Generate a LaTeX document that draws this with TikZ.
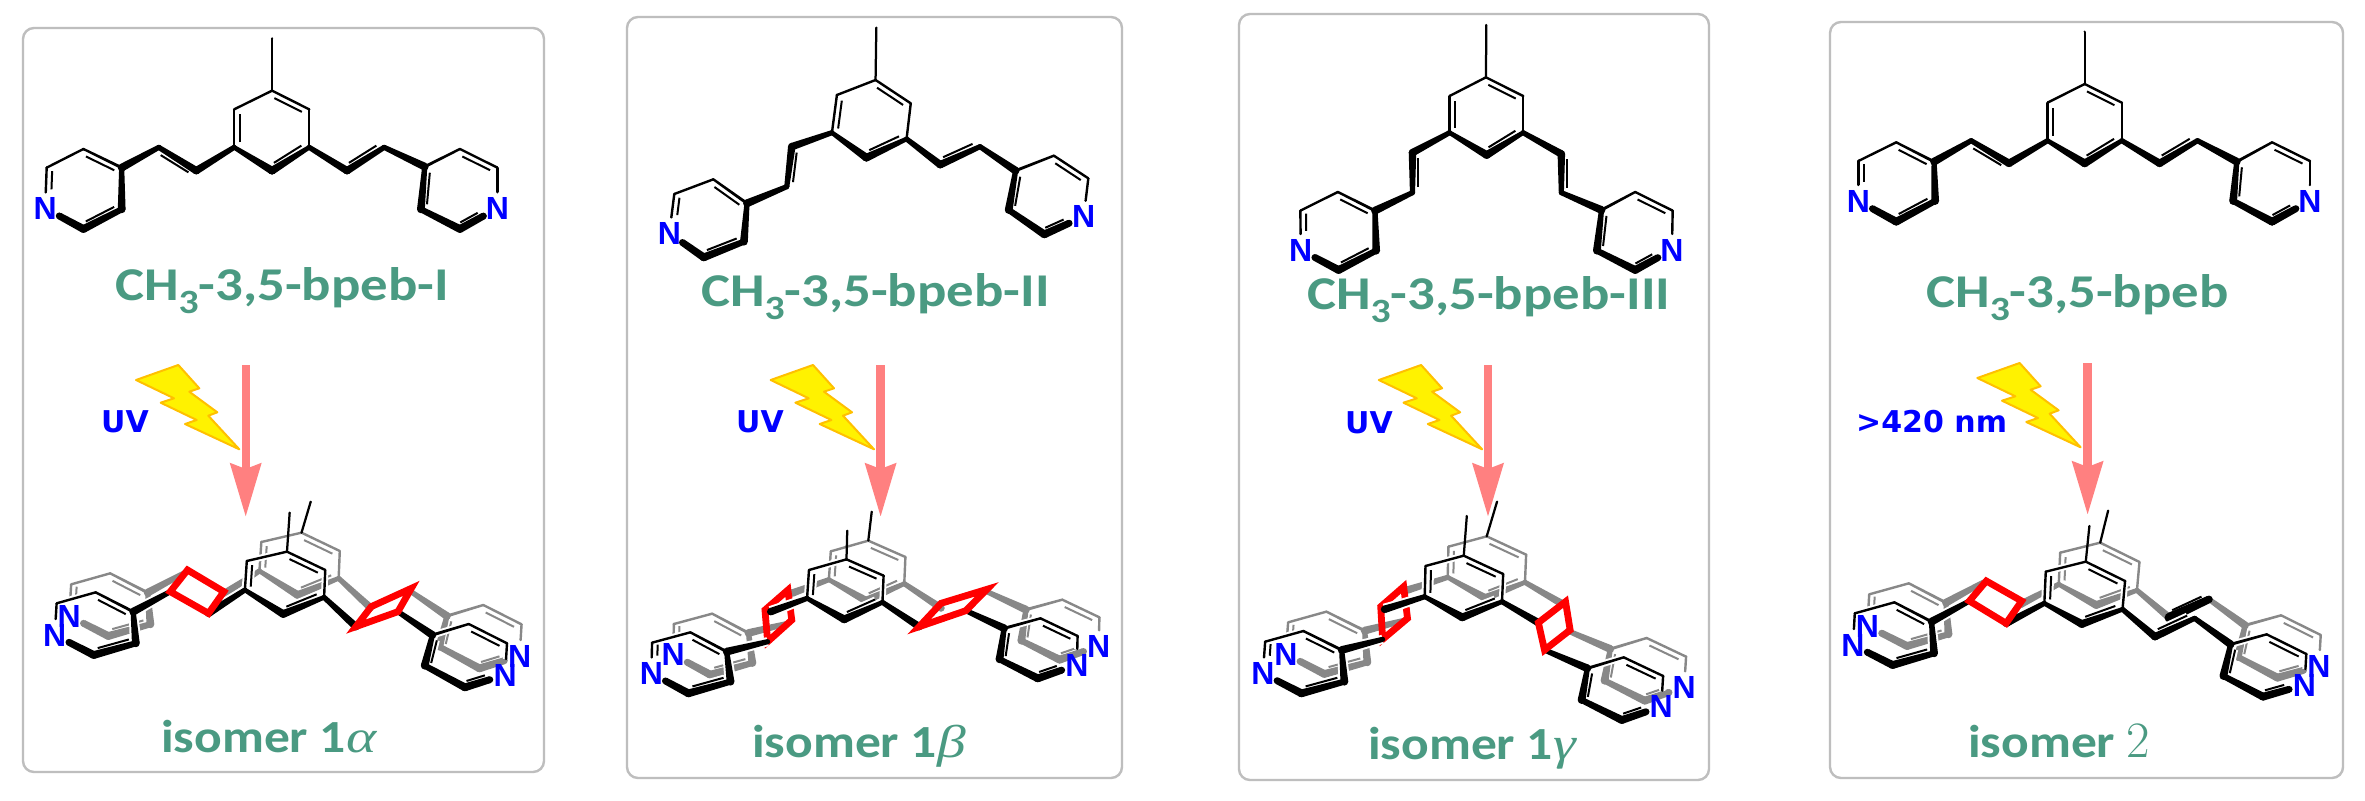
\documentclass[tikz,border=0pt]{standalone}
\usepackage{fontspec}
\usetikzlibrary{calc,arrows.meta}
\newfontfamily\labfont{Carlito}[FakeStretch=1.165]
\newfontfamily\isofont{Carlito}[FakeStretch=1.12]
\newfontfamily\grkfont{Liberation Serif}[FakeStretch=1.25]
\newfontfamily\atomfont{Liberation Sans}
\newfontfamily\lightfont{DejaVu Sans}
\definecolor{labgreen}{HTML}{4A9A82}
\definecolor{framegray}{HTML}{BEBEBE}
\definecolor{molgray}{HTML}{888888}
\definecolor{arrowpink}{HTML}{FF8080}
\definecolor{boltedge}{HTML}{FFC000}
\definecolor{nblue}{HTML}{0000FF}
\tikzset{
  framebox/.style={draw=framegray,line width=2.4pt,rounded corners=11pt},
  atomN/.style={inner sep=0pt,text=nblue,font=\atomfont\bfseries\fontsize{32}{32}\selectfont},
  namelabel/.style={anchor=base west,inner sep=0pt,text=labgreen,font=\labfont\bfseries\fontsize{47}{50}\selectfont},
  isolabel/.style={anchor=base west,inner sep=0pt,text=labgreen,font=\isofont\bfseries\fontsize{46}{50}\selectfont},
  lightlabel/.style={anchor=base west,inner sep=0pt,text=nblue,font=\lightfont\bfseries\fontsize{30}{32}\selectfont},
  lightarrow/.style={draw=arrowpink,line width=8.4pt,-{Stealth[length=53pt,width=30pt,inset=5pt]}},
  bolt/.style={fill=yellow,draw=boltedge,line width=2pt,line join=round},
  redquad/.style={draw=red,line width=6.8pt,line join=miter,miter limit=12},
  panelA/.style={x=0.38265pt,y=-0.33333pt},
  panelB/.style={x=0.36035pt,y=-0.33333pt},
}
% --- one tapered bond: names a,b, widths at a and b
\newcommand\wbond[4]{%
  \pgfmathsetmacro\wA{(#3*1.5+\bondextra)/2}\pgfmathsetmacro\wB{(#4*1.5+\bondextra)/2}%
  \fill[\bondcol] ($(#1)!\wA pt!90:(#2)$) -- ($(#1)!\wA pt!-90:(#2)$)
     -- ($(#2)!\wB pt!90:(#1)$) -- ($(#2)!\wB pt!-90:(#1)$) -- cycle;
  \ifdim\bondextra pt=0pt
  \fill[\bondcol] (#1) circle (\wA pt) (#2) circle (\wB pt);\fi}
\newcommand\inl[3]{%
  \pgfmathsetmacro\wA{2+\bondextra}%
  \draw[\bondcol,line width=\wA pt]
    ($ ($(#1)!.13!(#2)$)!5.6pt!#3:(#2) $) -- ($ ($(#1)!.87!(#2)$)!5.6pt!#3:(#2) $);}
% --- atom sets
\newcommand\atoms[2]{%
  \foreach \n/\x/\y in {#2}{\coordinate (#1\n) at (\x,\y);}}
\newcommand\shifted[2]{%
  \foreach \n in {m,c1,c2,c3,c4,c5,c6,vr1,vr2,rc,r1,r2,rn,r3,r4,vl1,vl2,lc,l1,l2,ln,l3,l4}
    {\coordinate (#1\n) at ($(\n)+#2$);}}
\newcommand\nends[1]{%
  \coordinate (#1lnA) at ($(#1ln)!16pt!(#1l2)$);
  \coordinate (#1lnB) at ($(#1ln)!16pt!(#1l3)$);
  \coordinate (#1rnA) at ($(#1rn)!16pt!(#1r2)$);
  \coordinate (#1rnB) at ($(#1rn)!16pt!(#1r3)$);}
% --- the molecule: prefix, colour, extra width (halo), #4=1 double vinyl left, #5=1 right
\newcommand\molecule[5]{%
  \def\bondcol{#2}\def\bondextra{#3}%
  \foreach \a/\b/\wa/\wb in {c1/c2/1.6/1.6,c2/c3/1.6/1.6,c3/c4/3/5.2,c4/c5/5.2/3,c5/c6/1.6/1.6,c6/c1/1.6/1.6,
     c3/vr1/3.4/5,vr2/rc/3.4/5.2,c5/vl1/3.4/5,vl2/lc/3.4/5.2,
     rc/r1/2/1.6,r1/r2/1.6/1.6,r2/rnA/1.6/1.6,rnB/r3/4.6/5.2,r3/r4/5.2/4,r4/rc/5.2/3.4,
     lc/l1/2/1.6,l1/l2/1.6/1.6,l2/lnA/1.6/1.6,lnB/l3/4.6/5.2,l3/l4/5.2/4,l4/lc/5.2/3.4}
     {\wbond{#1\a}{#1\b}{\wa}{\wb}}
  \ifnum#4=1 \wbond{#1vl1}{#1vl2}{5}{3.4}\inl{#1vl1}{#1vl2}{90}\fi
  \ifnum#5=1 \wbond{#1vr1}{#1vr2}{5}{3.4}\inl{#1vr1}{#1vr2}{90}\fi
  \inl{#1c1}{#1c2}{-90}\inl{#1c3}{#1c4}{-90}\inl{#1c5}{#1c6}{-90}
  \inl{#1l1}{#1lc}{-90}\inl{#1l4}{#1l3}{-90}\inl{#1lnA}{#1l2}{-90}
  \inl{#1r1}{#1r2}{-90}\inl{#1r4}{#1rc}{-90}\inl{#1rnB}{#1r3}{-90}}
\newcommand\Nlabels[2]{%
  \node[atomN] (N#2l) at (#1ln) {N};
  \node[atomN] (N#2r) at (#1rn) {N};}
\newcommand\methyl[1]{\def\bondcol{black}\def\bondextra{0}\wbond{#1m}{#1c1}{1.5}{1.5}}
\newcommand\topmol[2]{% atoms list, id
  \atoms{}{#1}\nends{}
  \molecule{}{black}{0}{1}{1}\methyl{}\Nlabels{}{#2}}
\newcommand\boltat[2]{%
  \draw[bolt] (#1,#2) -- ++(42.3,-15) -- ++(21,23.3) -- ++(-10,3.4) -- ++(28,20.6) -- ++(-9,3.4)
    -- ++(31,33.6) -- ++(-54.3,-25.3) -- ++(11.7,-4) -- ++(-36,-17.3) -- ++(13.3,-4.4) -- cycle;}
\begin{document}
\begin{tikzpicture}[x=1pt,y=-1pt]
\useasboundingbox (0,0) rectangle (2365,800);
\fill[white] (0,0) rectangle (2365,800);
% frames
\draw[framebox] (23,28) rectangle (544,772);
\draw[framebox] (627,17) rectangle (1122,778);
\draw[framebox] (1239,14) rectangle (1709,780);
\draw[framebox] (1830,22) rectangle (2343,778);
% top molecules
\begin{scope}[shift={(0,0)},panelA]
\topmol{m/711/115,c1/711/272,c2/808/328,c3/808/442,c4/711/512,c5/612/442,c6/612/328,vr1/907/512,vr2/1004/442,rc/1110/500,r1/1202/447,r2/1300/503,rn/1300/625,r3/1202/687,r4/1100/628,vl1/513/512,vl2/415/442,lc/318/503,l1/218/447,l2/122/503,ln/118/625,l3/218/687,l4/318/628}{A}
\end{scope}
\begin{scope}[shift={(610,0)},panelA]
\topmol{m/696/83,c1/694/240,c2/786/310,c3/775/417,c4/670/473,c5/580/398,c6/593/285,vr1/863/494,vr2/967/440,rc/1060/512,r1/1160/467,r2/1250/535,rn/1238/650,r3/1135/703,r4/1042/630,vl1/475/440,vl2/462/560,lc/358/610,l1/270/538,l2/168/582,ln/155/700,l3/245/772,l4/350/725}{B}
\end{scope}
\begin{scope}[shift={(1220,0)},panelA]
\topmol{m/696/75,c1/695/232,c2/792/288,c3/792/398,c4/697/465,c5/600/398,c6/600/288,vr1/892/462,vr2/892/578,rc/997/630,r1/1085/576,r2/1183/632,rn/1181/750,r3/1085/810,r4/985/752,vl1/503/458,vl2/503/578,lc/405/632,l1/308/576,l2/210/632,ln/211/750,l3/310/810,l4/408/752}{C}
\end{scope}
\begin{scope}[shift={(1800,0)},panelB]
\topmol{m/790/95,c1/790/252,c2/893/308,c3/893/422,c4/790/490,c5/687/422,c6/687/308,vr1/998/490,vr2/1103/422,rc/1212/485,r1/1310/427,r2/1415/483,rn/1415/603,r3/1310/665,r4/1202/603,vl1/580/490,vl2/475/422,lc/372/485,l1/267/427,l2/162/483,ln/162/603,l3/267/665,l4/375/603}{D}
\end{scope}
% bottom molecules
\begin{scope}[shift={(0,400)},panelA]
\atoms{}{m/757/338,c1/750/455,c2/850/510,c3/847/592,c4/740/642,c5/640/570,c6/645/483,vr1/930/680,vr2/1040/635,rc/1130/705,r1/1225/672,r2/1325/730,rn/1320/825,r3/1215/862,r4/1110/797,vl1/545/640,vl2/445/575,lc/348/635,l1/250/577,l2/148/610,ln/143/705,l3/245/765,l4/355/730}
\shifted{g}{(38,-57)}\coordinate (gm) at (812,305);
\nends{}\nends{g}
\molecule{g}{molgray}{0}{0}{0}
\molecule{}{white}{4}{0}{0}
\molecule{}{black}{0}{0}{0}
\methyl{}\methyl{g}
\draw[redquad] (445,575) -- (490,510) -- (585,575) -- (545,640) -- cycle;
\draw[redquad] (930,680) -- (970,620) -- (1075,565) -- (1040,635) -- cycle;
\Nlabels{g}{Ag}\Nlabels{}{Ab}
\end{scope}
\begin{scope}[shift={(610,400)},panelA]
\atoms{}{m/620/392,c1/618/478,c2/715/527,c3/712/607,c4/612/658,c5/515/595,c6/520/510,vr1/808/680,vr2/930/632,rc/1030/685,r1/1125/655,r2/1222/708,rn/1220/795,r3/1118/835,r4/1018/778,vl1/420/635,vl2/412/725,lc/305/755,l1/210/697,l2/110/728,ln/108/820,l3/205/880,l4/315/845}
\shifted{g}{(57,-56)}\coordinate (gm) at (684,335);
\nends{}\nends{g}
\molecule{g}{molgray}{0}{0}{0}
\draw[redquad] (412,725) -- (405,630) -- (465,570) -- (475,660) -- cycle;
\molecule{}{white}{4}{0}{0}
\molecule{}{black}{0}{0}{0}
\methyl{}\methyl{g}
\draw[redquad] (808,680) -- (865,610) -- (985,568) -- (930,632) -- cycle;
\Nlabels{g}{Bg}\Nlabels{}{Bb}
\end{scope}
\begin{scope}[shift={(1220,400)},panelA]
\atoms{}{m/645/348,c1/637/467,c2/740/522,c3/737/605,c4/633/652,c5/535/590,c6/537/498,vr1/832/668,vr2/848/750,rc/960/805,r1/1055/772,r2/1158/828,rn/1153/920,r3/1050/960,r4/945/900,vl1/430/628,vl2/425/718,lc/318/750,l1/218/693,l2/118/725,ln/112/820,l3/213/880,l4/325/845}
\shifted{g}{(60,-58)}\coordinate (gm) at (724,305);
\nends{}\nends{g}
\molecule{g}{molgray}{0}{0}{0}
\draw[redquad] (425,718) -- (420,620) -- (480,560) -- (490,655) -- cycle;
\molecule{}{white}{4}{0}{0}
\molecule{}{black}{0}{0}{0}
\methyl{}\methyl{g}
\draw[redquad] (848,750) -- (832,668) -- (903,605) -- (915,690) -- cycle;
\Nlabels{g}{Cg}\Nlabels{}{Cb}
\end{scope}
\begin{scope}[shift={(1800,400)},panelB]
\atoms{}{m/803/378,c1/793/485,c2/902/543,c3/895/628,c4/782/672,c5/678/610,c6/682/515,vr1/985/710,vr2/1095/655,rc/1195/733,r1/1295/703,r2/1405/762,rn/1400/855,r3/1285/890,r4/1175/828,vl1/572/670,vl2/470/603,lc/365/665,l1/262/607,l2/152/640,ln/147/735,l3/257/795,l4/372/760}
\shifted{g}{(40,-57)}\coordinate (gm) at (855,332);
\nends{}\nends{g}
\molecule{g}{molgray}{0}{0}{0}
\def\bondcol{black}\def\bondextra{0}\wbond{gvr1}{gvr2}{6.5}{5}\inl{gvr1}{gvr2}{90}
\molecule{}{white}{4}{0}{1}
\molecule{}{black}{0}{0}{1}
\methyl{}\methyl{g}
\draw[redquad] (470,603) -- (517,543) -- (615,603) -- (572,670) -- cycle;
\Nlabels{g}{Dg}\Nlabels{}{Db}
\end{scope}
% bolts
\boltat{136}{380}\boltat{770.7}{380}\boltat{1378.8}{380}\boltat{1977.3}{378}
% arrows
\foreach \i/\ax/\ay/\az in {A/245.7/365/517,B/880.6/365/517,C/1488/365/517,D/2087.6/363/515}{
  \coordinate (arr\i s) at (\ax,\ay);
  \coordinate (arr\i e) at (\ax,\az);
  \draw[lightarrow] (arr\i s) -- (arr\i e);
}
% labels
\node[lightlabel] (uvA) at (101,432) {UV};
\node[lightlabel] (uvB) at (736,432) {UV};
\node[lightlabel] (uvC) at (1345,433) {UV};
\node[lightlabel] (uvD) at (1856,432) {>420 nm};
\newcommand\subthree{\raisebox{-.28em}{\fontsize{34}{34}\selectfont 3}}
\node[namelabel] (nameA) at (115,300) {CH\subthree-3,5-bpeb-I};
\node[namelabel] (nameB) at (701,306) {CH\subthree-3,5-bpeb-II};
\node[namelabel] (nameC) at (1307,309) {CH\subthree-3,5-bpeb-III};
\node[namelabel] (nameD) at (1926,307) {CH\subthree-3,5-bpeb};
\node[isolabel] (isoA) at (161,752) {isomer 1{\grkfont\mdseries\itshape α}};
\node[isolabel] (isoB) at (752,757) {isomer 1{\grkfont\mdseries\itshape β}};
\node[isolabel] (isoC) at (1368,759) {isomer 1{\grkfont\mdseries\itshape γ}};
\node[isolabel] (isoD) at (1968,757) {isomer {\normalfont\fontsize{51}{50}\selectfont 2}};
\end{tikzpicture}
\end{document}
